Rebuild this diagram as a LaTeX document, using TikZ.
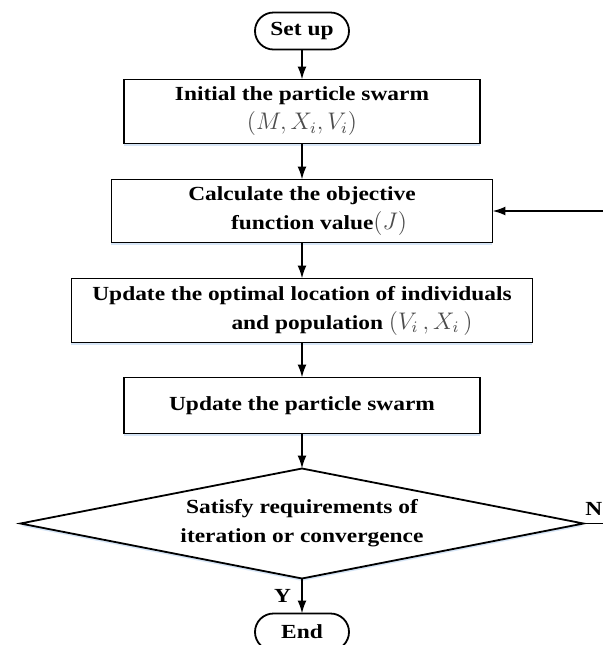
\documentclass[tikz,border=0pt]{standalone}
\usepackage{fontspec}
\setmainfont{Liberation Serif}[FakeStretch=1.17]
\usetikzlibrary{positioning, shapes.geometric, arrows.meta, shadows}

\definecolor{mathgray}{gray}{0.3}
\definecolor{shadowblue}{RGB}{196,218,242}
\newcommand{\mth}[1]{{\color{mathgray}\fontsize{11.5}{14.5}\selectfont$#1$}}

\begin{document}
\begin{tikzpicture}[
				font=\fontsize{10}{14.5}\selectfont\bfseries,
				line width=0.9pt,
				>={Latex[length=6.5pt,width=4.5pt]},
				node distance=17.5pt,
				every node/.style={outer sep=0pt},
				terminal/.style={draw, rounded corners=9.25pt, minimum width=47pt, minimum height=18.5pt, inner sep=0pt},
				process/.style={draw, fill=white, align=center, inner sep=0pt,
					drop shadow={shadow xshift=0pt, shadow yshift=-1.2pt, fill=shadowblue, opacity=0.7}},
				decision/.style={draw, diamond, fill=white, aspect=5.1, minimum width=281.5pt, minimum height=55pt,
					inner sep=0pt, align=center,
					drop shadow={shadow xshift=0pt, shadow yshift=-1.2pt, fill=shadowblue, opacity=0.7}}]
				
				\useasboundingbox (0,0) rectangle (301.5pt,-322.5pt);
				
				% main chain
				\node[terminal] (setup) at (151pt,-15.5pt) {Set up};
				\node[process, minimum width=178pt, minimum height=32pt, below=15pt of setup] (init)
				{Initial the particle swarm\\ \mth{(M,X_i,V_i)}};
				\node[process, minimum width=190.5pt, minimum height=31.5pt, below=18pt of init] (calc)
				{Calculate the objective\\ \hspace*{17pt}function value\mth{(J)}};
				\node[process, minimum width=230.5pt, minimum height=32pt, below=18pt of calc] (best)
				{Update the optimal location of individuals\\ \hspace*{50pt}and population \mth{(V_i\,,X_i\,)}};
				\node[process, minimum width=178pt, minimum height=28pt, below=of best] (swarm)
				{Update the particle swarm};
				\node[decision, below=of swarm] (check) {Satisfy requirements of\\ iteration or convergence};
				\node[terminal, below=of check] (finish) {End};
				
				\draw[->] (setup) -- (init);
				\draw[->] (init) -- (calc);
				\draw[->] (calc) -- (best);
				\draw[->] (best) -- (swarm);
				\draw[->] (swarm) -- (check);
				\draw[->] (check) -- node[left=3.5pt, inner sep=2pt] (yes) {Y} (finish);
				
				% loop back (turns outside the cropped area)
				\coordinate (back) at (310pt,0);
				\draw[->] (check.east) -- (check.east -| back) |- (calc.east);
				\node[inner sep=0pt, above right=4pt and 1pt of check.east] (no) {N};
			\end{tikzpicture}
\end{document}
